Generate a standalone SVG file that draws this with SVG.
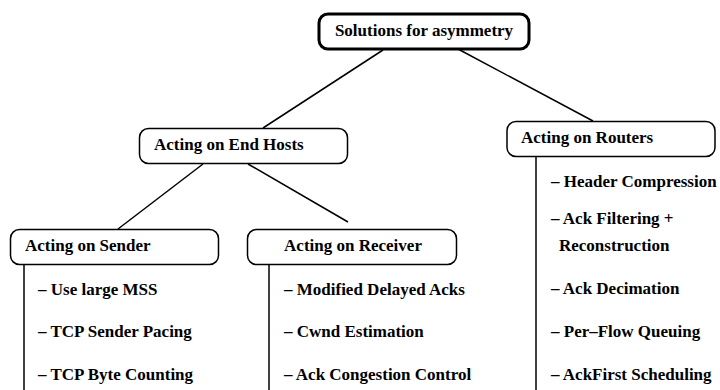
<svg xmlns="http://www.w3.org/2000/svg" width="720" height="390" viewBox="0 0 720 390">
<style>
text{font-family:'Liberation Serif',serif;font-weight:700;font-size:17px;fill:#000}
.box{fill:#fff;stroke:#000;stroke-width:1.5}
.root{fill:#fff;stroke:#000;stroke-width:3}
.conn{stroke:#000;stroke-width:1.5;fill:none}
</style>
<rect width="720" height="390" fill="#fff"/>
<g id="connectors">
<line class="conn" x1="383" y1="50" x2="263" y2="128"/>
<line class="conn" x1="458" y1="49" x2="593" y2="121"/>
<line class="conn" x1="203" y1="164" x2="118" y2="229"/>
<line class="conn" x1="248" y1="164" x2="348" y2="222"/>
<line class="conn" x1="24" y1="265" x2="24" y2="390"/>
<line class="conn" x1="269" y1="265" x2="269" y2="390"/>
<line class="conn" x1="536" y1="157" x2="536" y2="390"/>
</g>
<g id="root">
<rect class="root" x="319" y="14" width="210" height="35" rx="9"/>
<text x="424" y="36" text-anchor="middle">Solutions for asymmetry</text>
</g>
<g id="endhosts">
<rect class="box" x="139.5" y="128.5" width="208" height="35" rx="9"/>
<text x="154" y="150">Acting on End Hosts</text>
</g>
<g id="routers">
<rect class="box" x="507" y="121.5" width="208" height="35" rx="9"/>
<text x="521" y="143">Acting on Routers</text>
</g>
<g id="sender">
<rect class="box" x="10.5" y="229.5" width="208" height="35" rx="9"/>
<text x="25" y="251">Acting on Sender</text>
</g>
<g id="receiver">
<rect class="box" x="247.5" y="229.5" width="209" height="35" rx="9"/>
<text x="353" y="251" text-anchor="middle">Acting on Receiver</text>
</g>
<g id="sender-items">
<text x="38" y="295">– Use large MSS</text>
<text x="38" y="337">– TCP Sender Pacing</text>
<text x="38" y="380">– TCP Byte Counting</text>
</g>
<g id="receiver-items">
<text x="284" y="295">– Modified Delayed Acks</text>
<text x="284" y="337">– Cwnd Estimation</text>
<text x="284" y="380">– Ack Congestion Control</text>
</g>
<g id="router-items">
<text x="551" y="187">– Header Compression</text>
<text x="551" y="224">– Ack Filtering +</text>
<text x="559" y="251">Reconstruction</text>
<text x="551" y="294">– Ack Decimation</text>
<text x="551" y="337">– Per–Flow Queuing</text>
<text x="551" y="380">– AckFirst Scheduling</text>
</g>
</svg>
